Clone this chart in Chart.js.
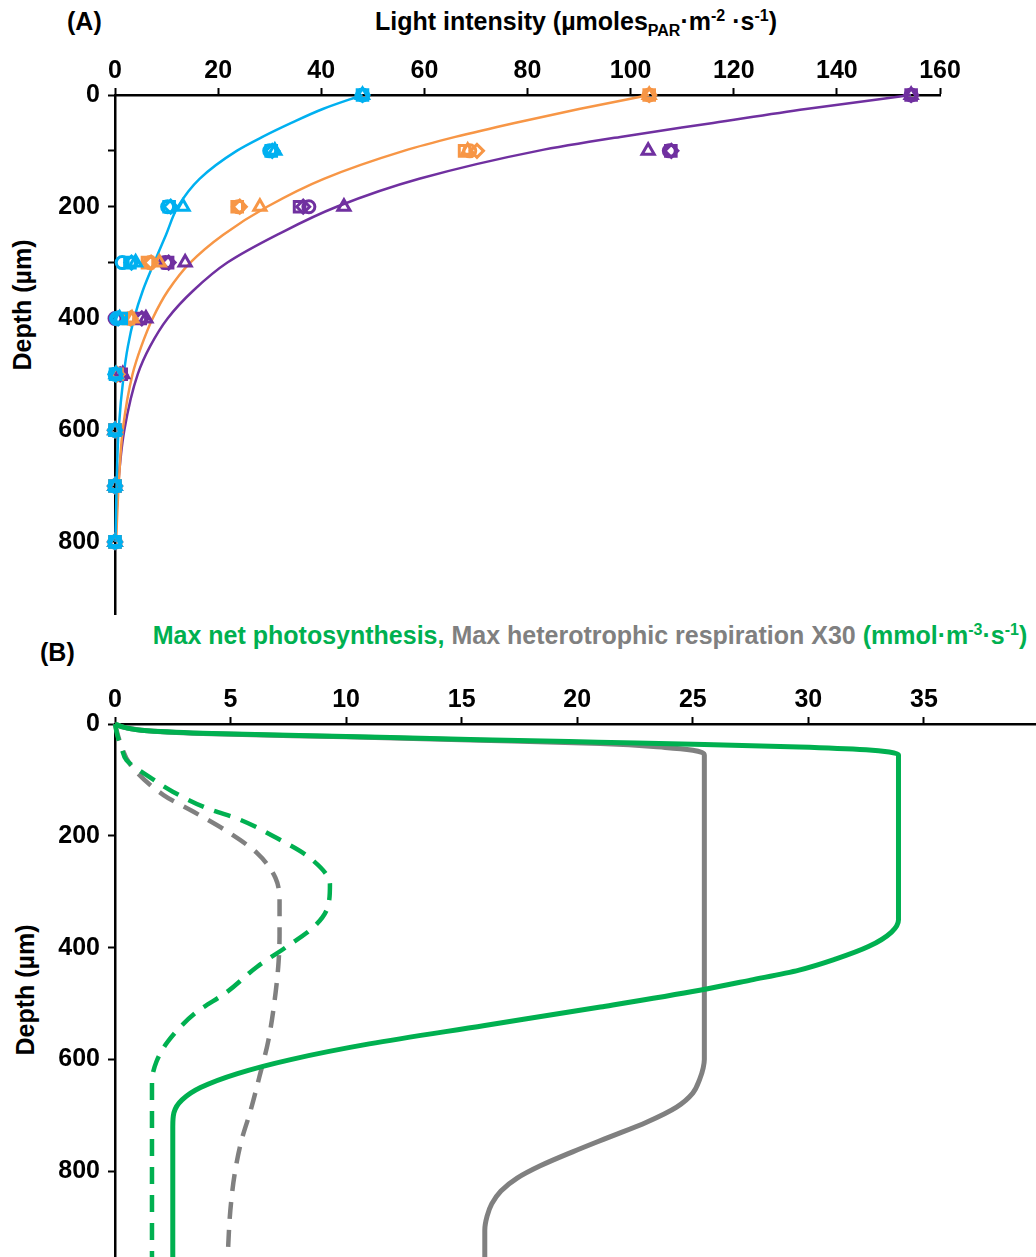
<!DOCTYPE html>
<html>
<head>
<meta charset="utf-8">
<script src="https://cdn.jsdelivr.net/npm/chart.js@4"></script>
<style>
  body { margin: 0; background: #fff; }
  #wrap { position: relative; width: 1036px; height: 1257px; font-family: "Liberation Sans", Arial, sans-serif; font-weight: bold; color: #000; }
  .txt { position: absolute; white-space: nowrap; font-size: 25px; line-height: 1; }
  .rot { transform: translate(-50%, -50%) rotate(-90deg); }
  sub, sup { font-size: 16px; line-height: 0; }
  #cA { position: absolute; left: 0; top: 0; }
  #cB { position: absolute; left: 0; top: 625px; }
  .green { color: #00b050; }
  .grey { color: #808080; }
</style>
</head>
<body>
<div id="wrap">
  <div class="txt" style="left:67px; top:9px;">(A)</div>
  <div class="txt" style="left:576px; top:9px; transform: translateX(-50%);">Light intensity (µmoles<sub>PAR</sub>·m<sup>-2</sup> ·s<sup>-1</sup>)</div>
  <div class="txt rot" style="left:22px; top:305px;">Depth (µm)</div>
  <div class="txt" style="left:590px; top:623px; transform: translateX(-50%);"><span class="green">Max net photosynthesis,</span> <span class="grey">Max heterotrophic respiration X30</span> <span class="green">(mmol·m<sup>-3</sup>·s<sup>-1</sup>)</span></div>
  <div class="txt" style="left:40px; top:640px;">(B)</div>
  <div class="txt rot" style="left:25px; top:990px;">Depth (µm)</div>
  <canvas id="cA" width="1036" height="625"></canvas>
  <canvas id="cB" width="1036" height="632"></canvas>
</div>
<script>
// (A) measured light profiles: depth (µm) and replicate readings per light level
const depthA = [0, 100, 200, 300, 400, 500, 600, 700, 800];

const blueSquare   = [48, 30.3, 10.5, 2.9, 1.2, 0.1, 0, 0, 0];
const blueCircle   = [48, 30.0, 10.2, 1.4, 0.3, 0.0, 0, 0, 0];
const blueTriangle = [48, 31.0, 13.2, 4.0, 0.9, 0.2, 0, 0, 0];
const blueDiamond  = [48, 30.5, 10.8, 3.2, 0.6, 0.1, 0, 0, 0];

const orangeSquare   = [103.6, 67.8, 23.7, 6.3, 2.6, 0.4, 0, 0, 0];
const orangeCircle   = [103.6, 68.8, 23.9, 6.8, 2.9, 0.2, 0, 0, 0];
const orangeTriangle = [103.6, 68.4, 28.1, 8.6, 3.3, 0.3, 0, 0, 0];
const orangeDiamond  = [103.6, 70.2, 24.2, 7.0, 3.0, 0.5, 0, 0, 0];

const purpleSquare   = [154.4, 107.8, 35.8, 10.2, 4.9, 1.2, 0, 0, 0];
const purpleCircle   = [154.4, 107.5, 37.6, 9.8, 0.0, 0.8, 0, 0, 0];
const purpleTriangle = [154.4, 103.4, 44.4, 13.6, 6.0, 1.5, 0, 0, 0];
const purpleDiamond  = [154.4, 107.9, 36.5, 10.4, 5.2, 1.0, 0, 0, 0];

// (A) fitted attenuation curves
const fitDepth  = [0, 25, 50, 75, 100, 150, 200, 250, 300, 350, 400, 450, 500, 600, 700, 800];
const blueFit   = [48, 40.3, 34.2, 28.6, 23.6, 16.4, 12.2, 9.9, 7.6, 5.4, 3.7, 2.5, 1.7, 0.7, 0.3, 0.1];
const orangeFit = [103.6, 90, 77.5, 66, 56, 40.5, 29.5, 21, 14.6, 10.3, 7.3, 5.1, 3.4, 1.5, 0.7, 0.2];
const purpleFit = [154.4, 134, 116, 98, 82, 59, 43, 31.5, 21.8, 15.2, 10.2, 6.8, 4.4, 1.8, 0.6, 0.1];

const ticksA = { xMax: 160, xStep: 20, yMax: 930, yStep: 100, yLabelStep: 200 };

// (B) modelled rate profiles
const greenSolidDepth = [0, 6, 12, 17, 22.5, 28, 32.5, 36.5, 41, 46, 50, 55, 350, 372, 398, 420, 440, 458, 476, 506, 539, 572, 600, 625, 650, 672, 695, 720, 953];
const greenSolid      = [0, 0.4, 1.4, 4.2, 10, 15.8, 20.9, 25.5, 29.6, 32.5, 33.5, 33.9, 33.9, 33.6, 32.6, 31.2, 29.6, 27.5, 25.3, 21.0, 16.0, 11.0, 7.6, 5.3, 3.7, 2.9, 2.55, 2.5, 2.5];

const greySolidDepth = [0, 6, 12, 17.5, 23, 29, 35, 42, 47, 51, 56, 600, 615, 635, 660, 685, 712, 740, 765, 790, 812, 835, 858, 880, 905, 953];
const greySolid      = [0, 0.4, 1.4, 4.2, 10, 15.8, 21, 23.8, 25.0, 25.4, 25.5, 25.5, 25.45, 25.3, 25.0, 24.3, 23.0, 21.3, 19.8, 18.4, 17.4, 16.7, 16.3, 16.1, 16.0, 16.0];

const greenDashDepth = [0, 20, 45, 65, 95, 121, 151, 171, 204, 240, 287, 328, 363, 399, 434, 479, 516, 567, 603, 640, 700, 953];
const greenDash      = [0, 0.1, 0.3, 0.5, 1.5, 2.5, 4.0, 5.4, 7.0, 8.45, 9.3, 9.2, 8.6, 7.4, 6.15, 4.85, 3.5, 2.3, 1.8, 1.6, 1.6, 1.6];

const greyDashDepth = [0, 30, 73, 127, 157, 192, 231, 275, 317, 376, 424, 480, 567, 632, 692, 745, 804, 870, 941, 953];
const greyDash      = [0, 0.2, 0.67, 2.1, 3.4, 4.85, 6.15, 6.94, 7.12, 7.12, 7.08, 6.95, 6.63, 6.24, 5.86, 5.47, 5.18, 4.99, 4.89, 4.88];

const ticksB = { xMax: 39.85, xStep: 5, yMax: 953, yStep: 200, yLabelStep: 200 };

const BLUE = "#00b0f0", ORANGE = "#f79646", PURPLE = "#7030a0";
const GREEN = "#00b050", GREY = "#808080";
const FONT = { family: "'Liberation Sans', Arial, sans-serif", size: 25, weight: "bold" };

function pts(xs, ys) {
  return xs.map((x, i) => ({ x: x, y: ys[i] }));
}

function markers(values, color, style, radius) {
  return {
    data: pts(values, depthA),
    showLine: false,
    pointStyle: style,
    pointRadius: radius,
    pointBorderWidth: 3,
    pointBorderColor: color,
    pointBackgroundColor: "rgba(0,0,0,0)",
    clip: false,
  };
}

function curve(xs, ys, color, width, dash) {
  return {
    data: pts(xs, ys),
    borderColor: color,
    borderWidth: width,
    borderDash: dash || [],
    pointRadius: 0,
    cubicInterpolationMode: "monotone",
    clip: false,
  };
}

function scales(t, leftWidth, topHeight) {
  return {
    x: {
      type: "linear",
      position: "top",
      min: 0,
      max: t.xMax,
      afterFit: (s) => { s.height = topHeight; s.paddingLeft = 0; s.paddingRight = 0; },
      afterBuildTicks: (s) => { s.ticks = s.ticks.filter((k) => k.value % t.xStep === 0); },
      ticks: { stepSize: t.xStep, font: FONT, color: "#000", padding: 2, maxRotation: 0 },
      grid: { drawOnChartArea: false, tickLength: 7, tickWidth: 2, tickColor: "#000" },
      border: { color: "#000", width: 2.5 },
    },
    y: {
      type: "linear",
      reverse: true,
      min: 0,
      max: t.yMax,
      afterFit: (s) => { s.width = leftWidth; s.paddingTop = 0; s.paddingBottom = 0; },
      afterBuildTicks: (s) => { s.ticks = s.ticks.filter((k) => k.value % t.yStep === 0); },
      ticks: {
        stepSize: t.yStep,
        font: FONT,
        color: "#000",
        padding: 8,
        callback: (v) => (v % t.yLabelStep === 0 ? v : ""),
      },
      grid: { drawOnChartArea: false, tickLength: 7, tickWidth: 2, tickColor: "#000" },
      border: { color: "#000", width: 2.5 },
    },
  };
}

const common = {
  responsive: false,
  animation: false,
  indexAxis: "y",
  plugins: { legend: { display: false }, tooltip: { enabled: false } },
};

new Chart(document.getElementById("cA"), {
  type: "line",
  data: {
    datasets: [
      markers(blueSquare, BLUE, "rect", 7.5),
      markers(blueCircle, BLUE, "circle", 6),
      markers(blueTriangle, BLUE, "triangle", 7),
      markers(blueDiamond, BLUE, "rectRot", 6.5),
      markers(orangeSquare, ORANGE, "rect", 7.5),
      markers(orangeCircle, ORANGE, "circle", 6),
      markers(orangeTriangle, ORANGE, "triangle", 7),
      markers(orangeDiamond, ORANGE, "rectRot", 6.5),
      markers(purpleSquare, PURPLE, "rect", 7.5),
      markers(purpleCircle, PURPLE, "circle", 6),
      markers(purpleTriangle, PURPLE, "triangle", 7),
      markers(purpleDiamond, PURPLE, "rectRot", 6.5),
      curve(blueFit, fitDepth, BLUE, 2.5),
      curve(orangeFit, fitDepth, ORANGE, 2.5),
      curve(purpleFit, fitDepth, PURPLE, 2.5),
    ],
  },
  options: Object.assign({}, common, {
    layout: { padding: { left: 0, top: 0, right: 96, bottom: 9 } },
    scales: scales(ticksA, 115, 95),
  }),
});

new Chart(document.getElementById("cB"), {
  type: "line",
  data: {
    datasets: [
      curve(greenSolid, greenSolidDepth, GREEN, 5),
      curve(greenDash, greenDashDepth, GREEN, 4.5, [17, 11]),
      curve(greySolid, greySolidDepth, GREY, 5),
      curve(greyDash, greyDashDepth, GREY, 4.5, [17, 11]),
    ],
  },
  options: Object.assign({}, common, {
    layout: { padding: { left: 0, top: 0, right: 0, bottom: 0 } },
    scales: scales(ticksB, 115, 99),
  }),
});
</script>
</body>
</html>
